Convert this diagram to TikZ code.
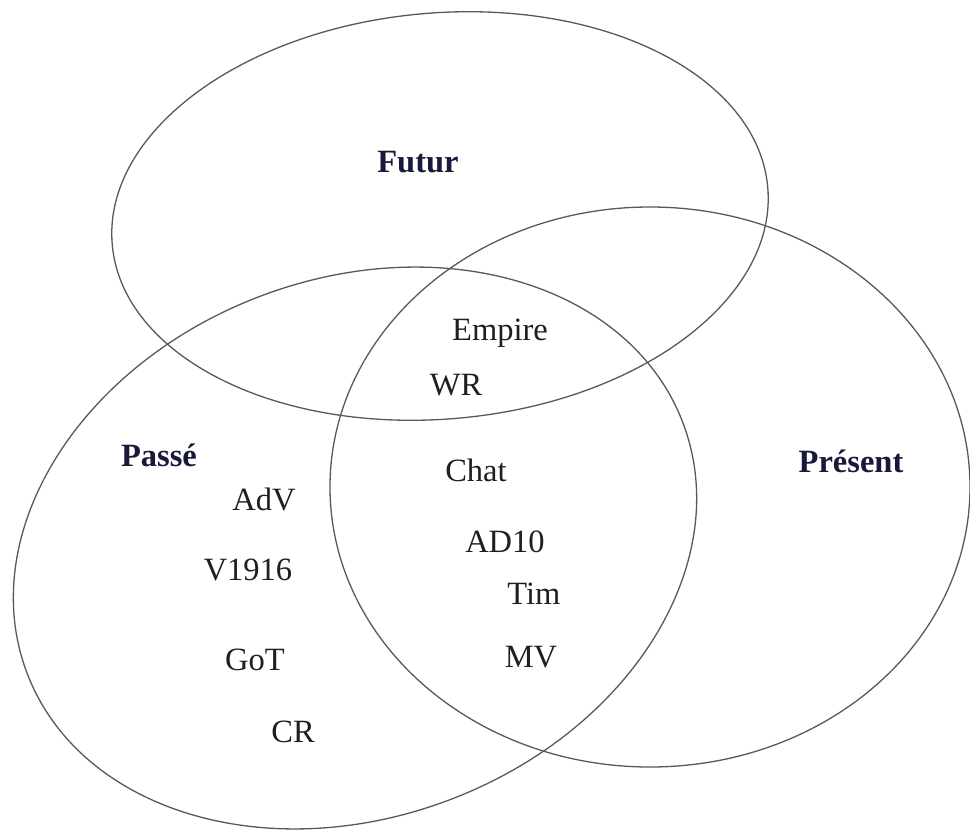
\documentclass[tikz,border=0pt]{standalone}
\usepackage{fontspec}
\setmainfont{Liberation Serif}
\begin{document}
\begin{tikzpicture}[x=1pt,y=-1pt,
  set/.style={draw=black!65,line width=1.3pt},
  item/.style={anchor=base,inner sep=0pt,text=black!88,font=\fontsize{32.5}{36}\selectfont},
  title/.style={anchor=base,inner sep=0pt,text={rgb,255:red,25;green,25;blue,60},font=\fontsize{32.5}{36}\selectfont\bfseries}]
\fill[white] (0,0) rectangle (970,830);
\useasboundingbox (0,0) rectangle (970,830);
\coordinate (cf) at (440,216);
\coordinate (cp) at (355,548);
\coordinate (cr) at (650,487);
\draw[set] (cf) ellipse [x radius=329pt, y radius=203pt, rotate=5];
\draw[set] (cp) ellipse [x radius=351pt, y radius=269pt, rotate=21];
\draw[set] (cr) ellipse [x radius=320pt, y radius=280pt];
\node[title] (futur) at (418,172) {Futur};
\node[title] (passe) at (159,466) {Passé};
\node[title] (present) at (851,472) {Présent};
\node[item] (empire) at (500,340) {Empire};
\node[item] (wr) at (456,395) {WR};
\node[item] (chat) at (476,481) {Chat};
\node[item] (adv) at (264,510) {AdV};
\node[item] (ad10) at (505,552) {AD10};
\node[item] (v1916) at (248,580) {V1916};
\node[item] (tim) at (534,604) {Tim};
\node[item] (got) at (255,670) {GoT};
\node[item] (mv) at (531,667) {MV};
\node[item] (cr) at (293,742) {CR};
\end{tikzpicture}
\end{document}
